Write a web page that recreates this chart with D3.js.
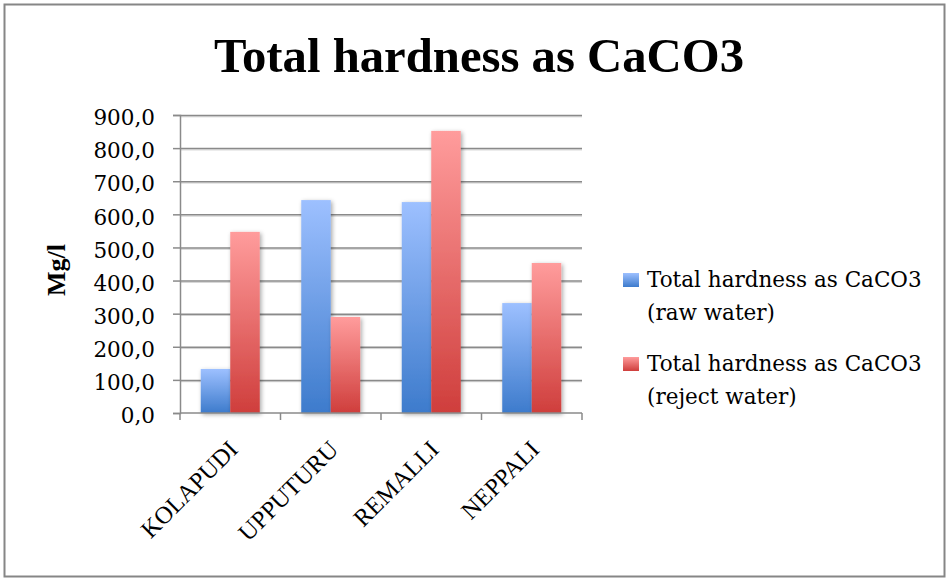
<!DOCTYPE html>
<html>
<head>
<meta charset="utf-8">
<script src="https://cdn.jsdelivr.net/npm/d3@7"></script>
<style>
  html, body { margin: 0; padding: 0; background: #fff; }
  svg { display: block; }
</style>
</head>
<body>
<svg id="chart" width="949" height="581"></svg>
<script>
// Sampling sites and measured total hardness (mg/l as CaCO3)
const categories = ["KOLAPUDI", "UPPUTURU", "REMALLI", "NEPPALI"];
const rawWater = [133, 643, 637, 332];
const rejectWater = [547, 290, 852, 453];
const seriesNames = ["Total hardness as CaCO3 (raw water)", "Total hardness as CaCO3 (reject water)"];
const legendLines = [["Total hardness as CaCO3", "(raw water)"], ["Total hardness as CaCO3", "(reject water)"]];
const yTicks = [0, 100, 200, 300, 400, 500, 600, 700, 800, 900];

const svg = d3.select("#chart");
const times = "'Liberation Serif', 'Times New Roman', serif";
const bodySerif = "'DejaVu Serif', serif";

// Outer chart frame
svg.append("rect")
  .attr("x", 4.5).attr("y", 4.5).attr("width", 940).attr("height", 572)
  .attr("fill", "#fff").attr("stroke", "#868686").attr("stroke-width", 2);

const plot = { left: 180, right: 582, top: 115, bottom: 413 };

const x = d3.scaleBand().domain(categories).range([plot.left, plot.right]).paddingInner(0).paddingOuter(0);
const y = d3.scaleLinear().domain([0, 900]).range([plot.bottom, plot.top]);
const barW = 29.5;

const defs = svg.append("defs");
function grad(id, top, bottom) {
  const g = defs.append("linearGradient").attr("id", id)
    .attr("x1", 0).attr("y1", 0).attr("x2", 0).attr("y2", 1);
  g.append("stop").attr("offset", "0%").attr("stop-color", top);
  g.append("stop").attr("offset", "100%").attr("stop-color", bottom);
}
grad("gBlue", "#9DC0FF", "#3D7BCC");
grad("gRed", "#FF9C9C", "#CF3E3C");
const shadow = defs.append("filter").attr("id", "shadow")
  .attr("x", "-30%").attr("y", "-10%").attr("width", "160%").attr("height", "130%");
shadow.append("feDropShadow").attr("dx", 1.5).attr("dy", 1.5).attr("stdDeviation", 2)
  .attr("flood-color", "#000").attr("flood-opacity", 0.35);

// Horizontal gridlines with a faint shadow line beneath
const grid = svg.append("g");
grid.selectAll("line.sh").data(yTicks.filter(d => d > 0)).join("line").attr("class", "sh")
  .attr("x1", plot.left).attr("x2", plot.right)
  .attr("y1", d => y(d) + 1.8).attr("y2", d => y(d) + 1.8)
  .attr("stroke", "#d0d0d0").attr("stroke-width", 1);
grid.selectAll("line.gl").data(yTicks.filter(d => d > 0)).join("line").attr("class", "gl")
  .attr("x1", plot.left).attr("x2", plot.right)
  .attr("y1", d => y(d) + 0.5).attr("y2", d => y(d) + 0.5)
  .attr("stroke", "#8a8a8a").attr("stroke-width", 1.5);

// Y axis
const yAxis = svg.append("g").attr("transform", `translate(${plot.left},0)`)
  .call(d3.axisLeft(y).tickValues(yTicks).tickSize(7).tickPadding(18)
    .tickFormat(d => d3.format(".1f")(d).replace(".", ",")));
yAxis.attr("font-family", null).attr("font-size", null);
yAxis.select(".domain").attr("stroke", "#8a8a8a").attr("stroke-width", 1.5);
yAxis.selectAll(".tick line").attr("stroke", "#8a8a8a").attr("stroke-width", 1.5);
yAxis.selectAll(".tick text")
  .attr("dy", "0.45em")
  .style("font-family", bodySerif).style("font-size", "21.5px").attr("fill", "#000");

// Bars
const series = [rawWater, rejectWater];
const fills = ["url(#gBlue)", "url(#gRed)"];
series.forEach((vals, si) => {
  svg.append("g").attr("filter", "url(#shadow)")
    .selectAll("rect").data(vals).join("rect")
    .attr("x", (d, i) => x(categories[i]) + x.bandwidth() / 2 - barW + si * barW)
    .attr("y", d => y(d))
    .attr("width", barW)
    .attr("height", d => y(0) - y(d))
    .attr("fill", fills[si]);
});

// X axis with category ticks at band boundaries
const xAxisG = svg.append("g").attr("transform", `translate(0,${plot.bottom})`);
xAxisG.append("line").attr("x1", plot.left).attr("x2", plot.right)
  .attr("stroke", "#8a8a8a").attr("stroke-width", 1.5);
const bounds = categories.map(c => x(c)).concat([plot.right]);
xAxisG.selectAll("line.tk").data(bounds).join("line").attr("class", "tk")
  .attr("x1", d => d).attr("x2", d => d).attr("y1", 0).attr("y2", 7)
  .attr("stroke", "#8a8a8a").attr("stroke-width", 1.5);
xAxisG.selectAll("text").data(categories).join("text")
  .attr("transform", d => `translate(${x(d) + x.bandwidth() / 2 + 9},${38}) rotate(-45)`)
  .attr("text-anchor", "end")
  .style("font-family", times).style("font-size", "24.5px").attr("fill", "#000")
  .text(d => d);

// Title
svg.append("text").attr("x", 479).attr("y", 72).attr("text-anchor", "middle")
  .style("font-family", times).style("font-weight", "bold").style("font-size", "49px")
  .attr("textLength", 530).attr("lengthAdjust", "spacingAndGlyphs")
  .attr("fill", "#000").text("Total hardness as CaCO3");

// Y axis title
svg.append("text").attr("transform", "translate(65,270) rotate(-90)")
  .attr("text-anchor", "middle")
  .style("font-family", times).style("font-weight", "bold").style("font-size", "26px")
  .attr("fill", "#000").text("Mg/l");

// Legend
const legendGrads = ["url(#gBlue)", "url(#gRed)"];
const legend = svg.append("g");
seriesNames.forEach((name, i) => {
  const g = legend.append("g").attr("transform", `translate(623,${273 + i * 84})`);
  g.append("rect").attr("width", 16).attr("height", 14).attr("fill", legendGrads[i]);
  const t = g.append("text").attr("x", 24).attr("y", 14)
    .style("font-family", bodySerif).style("font-size", "21.5px").attr("fill", "#000");
  legendLines[i].forEach((ln, j) => {
    t.append("tspan").attr("x", 24).attr("dy", j === 0 ? 0 : 33).text(ln);
  });
});
</script>
</body>
</html>
